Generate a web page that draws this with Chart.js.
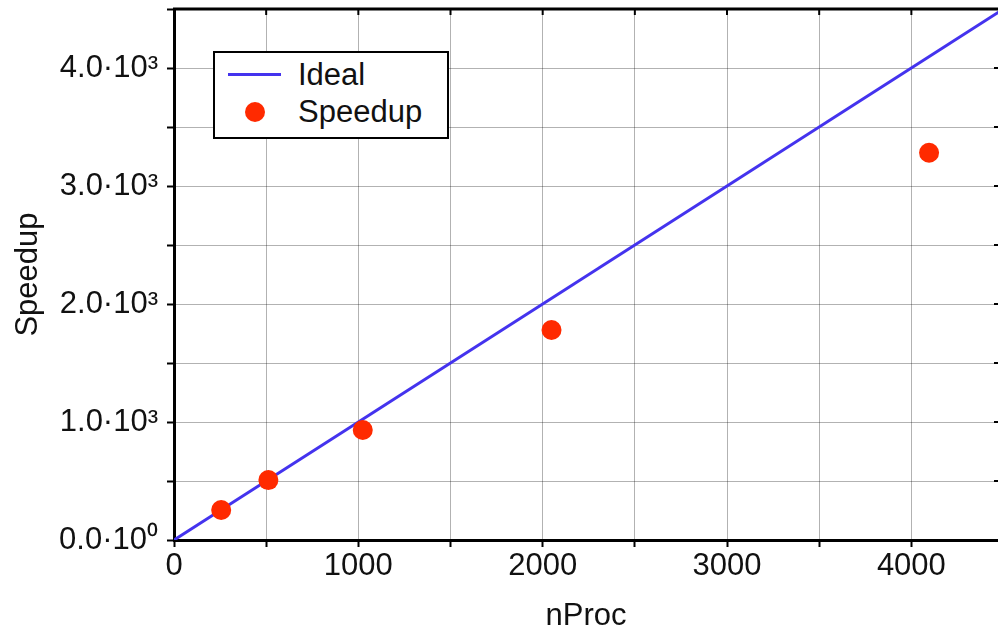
<!DOCTYPE html>
<html>
<head>
<meta charset="utf-8">
<script src="https://cdn.jsdelivr.net/npm/chart.js@4/dist/chart.umd.min.js"></script>
<style>
html,body{margin:0;padding:0;background:#fff;}
#wrap{position:relative;width:998px;height:629px;overflow:hidden;}
#legend{position:absolute;left:213px;top:51px;width:232px;height:84px;border:2.5px solid #000;background:#fff;font-family:"Liberation Sans",Arial,sans-serif;font-size:31px;color:#111;}
#legend .row{position:absolute;left:0;height:36px;line-height:36px;}
#legend .lbl{position:absolute;left:83px;white-space:nowrap;}
#legend .ln{position:absolute;left:13px;top:16px;width:53px;height:3px;background:#4433ee;}
#legend .dot{position:absolute;left:30px;top:8px;width:20px;height:20px;border-radius:50%;background:#ff2a00;}
</style>
</head>
<body>
<div id="wrap">
<canvas id="c" width="998" height="629"></canvas>
<div id="legend">
  <div class="row" style="top:4px;width:220px;"><div class="ln"></div><div class="lbl">Ideal</div></div>
  <div class="row" style="top:41px;width:220px;"><div class="dot"></div><div class="lbl">Speedup</div></div>
</div>
</div>
<script>
const nProc = [256, 512, 1024, 2048, 4096];
const speedup = [254, 508, 932, 1780, 3282];
const idealX = [0, 4500];
const idealY = [0, 4500];
const xTicks = [0, 1000, 2000, 3000, 4000];
const yTickLabels = {0: '0.0·10⁰', 1000: '1.0·10³', 2000: '2.0·10³', 3000: '3.0·10³', 4000: '4.0·10³'};
const xTitle = 'nProc';
const yTitle = 'Speedup';

const FONT = '"Liberation Sans", Arial, sans-serif';

const frame = {
  id: 'frame',
  afterDraw(chart) {
    const {ctx, chartArea: a, scales: {x, y}} = chart;
    ctx.save();
    ctx.strokeStyle = '#000';
    ctx.lineWidth = 3;
    ctx.beginPath();
    ctx.moveTo(a.left - 1, a.top);
    ctx.lineTo(a.right + 2, a.top);
    ctx.stroke();
    ctx.lineWidth = 2;
    for (let v = 500; v < 4500; v += 500) {
      const px = x.getPixelForValue(v);
      if (px > a.right - 2) continue;
      ctx.beginPath(); ctx.moveTo(px, a.top); ctx.lineTo(px, a.top + 6); ctx.stroke();
    }
    for (let v = 500; v < 4500; v += 500) {
      const py = y.getPixelForValue(v);
      ctx.beginPath(); ctx.moveTo(a.right, py); ctx.lineTo(a.right - 4, py); ctx.stroke();
    }
    ctx.restore();
  }
};

new Chart(document.getElementById('c'), {
  type: 'scatter',
  data: {
    datasets: [
      {
        label: 'Ideal',
        data: idealX.map((v, i) => ({x: v, y: idealY[i]})),
        showLine: true,
        borderColor: '#4433ee',
        borderWidth: 3,
        pointRadius: 0,
        order: 2
      },
      {
        label: 'Speedup',
        data: nProc.map((v, i) => ({x: v, y: speedup[i]})),
        backgroundColor: '#ff2a00',
        borderColor: '#ff2a00',
        pointRadius: 10,
        pointBorderWidth: 0,
        order: 1
      }
    ]
  },
  options: {
    responsive: false,
    animation: false,
    layout: {autoPadding: false, padding: {top: 9, right: 0, left: 0, bottom: 0}},
    plugins: {legend: {display: false}, tooltip: {enabled: false}},
    scales: {
      x: {
        type: 'linear',
        min: 0, max: 4470,
        afterBuildTicks(s) { s.ticks = []; for (let v = 0; v <= 4470; v += 500) s.ticks.push({value: v}); },
        afterFit(s) { s.height = 89; s.paddingLeft = 0; s.paddingRight = 0; },
        ticks: {
          autoSkip: false, maxRotation: 0,
          font: {family: FONT, size: 31}, color: '#111', padding: 1,
          callback: (v) => xTicks.includes(v) ? String(v) : ''
        },
        grid: {color: 'rgba(0,0,0,0.3)', lineWidth: 1, tickLength: 7, tickColor: '#000', tickWidth: 2},
        border: {color: '#000', width: 3},
        title: {display: true, text: xTitle, font: {family: FONT, size: 31}, color: '#111', padding: {top: 0, bottom: -6}}
      },
      y: {
        type: 'linear',
        min: 0, max: 4500,
        afterBuildTicks(s) { s.ticks = []; for (let v = 0; v <= 4500; v += 500) s.ticks.push({value: v}); },
        afterFit(s) { s.width = 174; s.paddingTop = 0; s.paddingBottom = 0; },
        ticks: {
          autoSkip: false,
          font: {family: FONT, size: 31}, color: '#111', padding: 9,
          callback: (v) => yTickLabels[v] !== undefined ? yTickLabels[v] : ''
        },
        grid: {color: 'rgba(0,0,0,0.3)', lineWidth: 1, tickLength: 7, tickColor: '#000', tickWidth: 2},
        border: {color: '#000', width: 3},
        title: {display: true, text: yTitle, font: {family: FONT, size: 31}, color: '#111', padding: {bottom: 0, top: 10}}
      }
    }
  },
  plugins: [frame]
});
</script>
</body>
</html>
